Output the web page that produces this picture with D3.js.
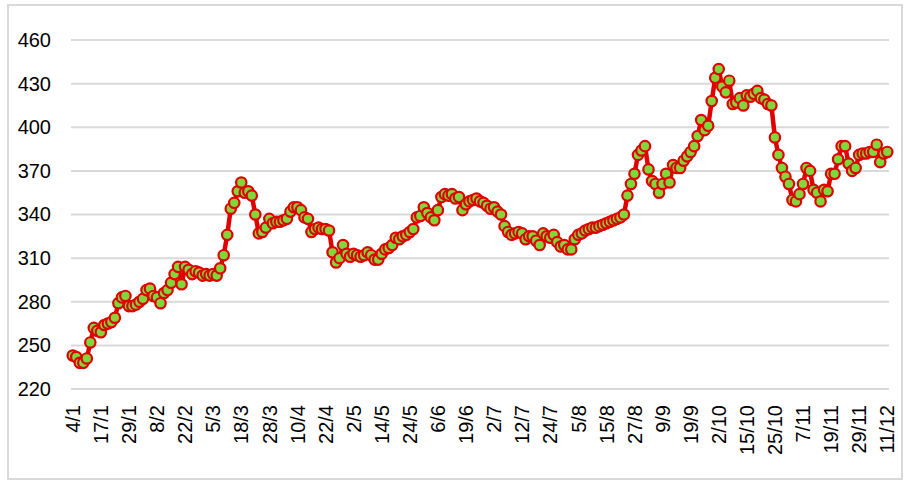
<!DOCTYPE html>
<html>
<head>
<meta charset="utf-8">
<script src="https://cdn.jsdelivr.net/npm/d3@7"></script>
<style>
  html, body { margin: 0; padding: 0; background: #fff; }
  svg { display: block; }
  text { font-family: Arial, "Liberation Sans", sans-serif; fill: #000; }
</style>
</head>
<body>
<svg id="chart" width="909" height="488"></svg>
<script>
// ---- data ----
const tickLabels = ["4/1","17/1","29/1","8/2","22/2","5/3","18/3","28/3","10/4","22/4",
  "2/5","14/5","24/5","6/6","19/6","2/7","12/7","24/7","5/8","15/8",
  "27/8","9/9","19/9","2/10","15/10","25/10","7/11","19/11","29/11","11/12"];
const labelEvery = 8; // one tick label every 8 categories
const yTicks = [220, 250, 280, 310, 340, 370, 400, 430, 460];
const values = [
  243, 242, 238, 238, 241, 252, 262, 260,
  259, 264, 265, 266, 269, 279, 283, 284,
  277, 277, 278, 280, 282, 288, 289, 284,
  283, 279, 286, 288, 293, 299, 304, 292,
  304, 302, 299, 301, 300, 298, 299, 298,
  299, 298, 303, 312, 326, 344, 348, 356,
  362, 355, 356, 353, 340, 327, 328, 331,
  337, 334, 335, 335, 336, 337, 342, 345,
  345, 343, 338, 337, 328, 330, 331, 330,
  330, 329, 314, 307, 310, 319, 313, 311,
  313, 312, 311, 312, 314, 312, 309, 309,
  313, 316, 317, 319, 324, 323, 325, 326,
  328, 330, 338, 339, 345, 341, 338, 336,
  343, 352, 354, 353, 354, 351, 352, 343,
  347, 349, 350, 351, 349, 348, 346, 344,
  345, 342, 340, 332, 328, 326, 327, 328,
  327, 323, 325, 325, 322, 319, 327, 325,
  324, 326, 321, 318, 319, 316, 316, 323,
  326, 327, 329, 330, 331, 331, 332, 333,
  334, 335, 336, 337, 338, 340, 353, 361,
  368, 381, 384, 387, 371, 363, 361, 355,
  361, 368, 362, 374, 372, 372, 377, 380,
  383, 387, 394, 405, 398, 401, 418, 434,
  440, 428, 424, 432, 416, 417, 420, 415,
  422, 421, 423, 425, 420, 419, 416, 415,
  393, 381, 372, 366, 361, 350, 349, 354,
  361, 372, 370, 357, 355, 349, 357, 356,
  368, 368, 378, 387, 387, 375, 370, 372,
  381, 382, 382, 383, 383, 388, 376, 382,
  383
];

// ---- layout ----
const svg = d3.select("#chart");
const plot = { left: 71, right: 889, top: 40, bottom: 389 };

svg.append("rect")
  .attr("x", 8).attr("y", 5).attr("width", 894).attr("height", 474)
  .attr("fill", "#fff").attr("stroke", "#d9d9d9").attr("stroke-width", 2);

const x = d3.scaleBand()
  .domain(d3.range(values.length))
  .range([plot.left, plot.right])
  .paddingInner(0).paddingOuter(0);
const cx = i => x(i) + x.bandwidth() / 2;

const y = d3.scaleLinear().domain([220, 460]).range([plot.bottom, plot.top]);

// gridlines
svg.append("g").selectAll("line").data(yTicks).join("line")
  .attr("x1", plot.left).attr("x2", plot.right)
  .attr("y1", d => y(d)).attr("y2", d => y(d))
  .attr("stroke", "#d9d9d9").attr("stroke-width", 2);

// y axis labels
const yAxis = d3.axisLeft(y).tickValues(yTicks).tickSize(0).tickPadding(20);
const gy = svg.append("g").attr("transform", `translate(${plot.left},0)`).call(yAxis);
gy.select(".domain").remove();
gy.selectAll("text")
  .attr("font-size", 20)
  .attr("font-family", "Arial, 'Liberation Sans', sans-serif")
  .attr("fill", "#000");

// x axis labels (rotated)
const tickIdx = tickLabels.map((_, k) => k * labelEvery);
const xAxis = d3.axisBottom(x)
  .tickValues(tickIdx)
  .tickFormat((d, k) => tickLabels[k])
  .tickSize(0);
const gx = svg.append("g").attr("transform", `translate(0,${plot.bottom})`).call(xAxis);
gx.select(".domain").remove();
gx.selectAll("text")
  .attr("font-size", 20)
  .attr("font-family", "Arial, 'Liberation Sans', sans-serif")
  .attr("fill", "#000")
  .attr("text-anchor", "end")
  .attr("transform", "rotate(-90)")
  .attr("x", -16)
  .attr("y", 0)
  .attr("dy", "0.36em");

// line
const line = d3.line().x((d, i) => cx(i)).y(d => y(d));
svg.append("path")
  .datum(values)
  .attr("d", line)
  .attr("fill", "none")
  .attr("stroke", "#e00000")
  .attr("stroke-width", 4.5)
  .attr("stroke-linejoin", "round");

// markers
svg.append("g").selectAll("circle").data(values).join("circle")
  .attr("cx", (d, i) => cx(i))
  .attr("cy", d => y(d))
  .attr("r", 5.2)
  .attr("fill", "#80d63a")
  .attr("stroke", "#e00000")
  .attr("stroke-width", 2.2);
</script>
</body>
</html>
